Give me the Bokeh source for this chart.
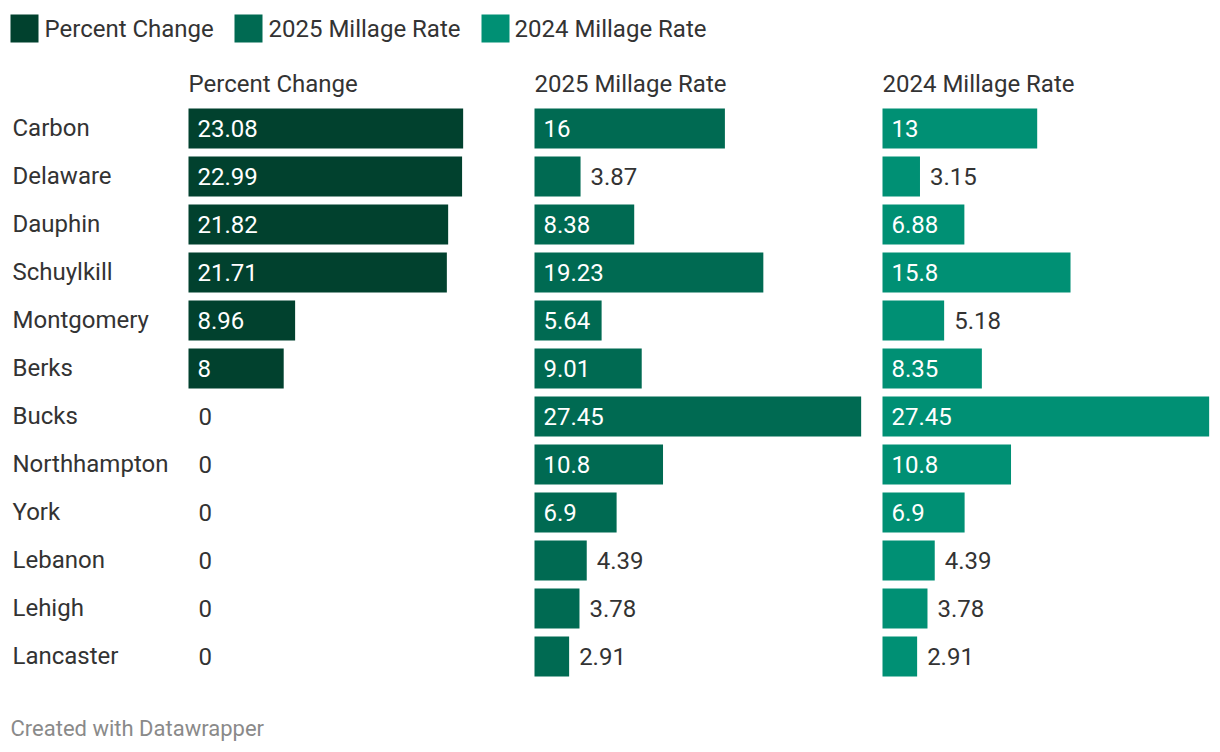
from bokeh.plotting import figure
from bokeh.models import Range1d, ColumnDataSource
from bokeh.embed import file_html
from bokeh.resources import INLINE
from bokeh.core.properties import value

# ---------------- data ----------------
counties = ["Carbon", "Delaware", "Dauphin", "Schuylkill", "Montgomery", "Berks",
            "Bucks", "Northhampton", "York", "Lebanon", "Lehigh", "Lancaster"]
pct_change = [23.08, 22.99, 21.82, 21.71, 8.96, 8, 0, 0, 0, 0, 0, 0]
rate_2025 = [16, 3.87, 8.38, 19.23, 5.64, 9.01, 27.45, 10.8, 6.9, 4.39, 3.78, 2.91]
rate_2024 = [13, 3.15, 6.88, 15.8, 5.18, 8.35, 27.45, 10.8, 6.9, 4.39, 3.78, 2.91]
series_names = ["Percent Change", "2025 Millage Rate", "2024 Millage Rate"]
series_colors = ["#01412e", "#006a52", "#009074"]
footer_text = "Created with Datawrapper"

# ---------------- layout constants ----------------
W, H = 1212, 744
FONT = value("Roboto")
TEXT_COLOR = "#333333"
ROW0, PITCH, BAR_H = 128, 48, 40
PX_PER_UNIT = 11.9
PANEL_LEFT = [188, 534, 882]
INSIDE_MIN = 5.5

p = figure(width=W, height=H, x_range=Range1d(0, W), y_range=Range1d(H, 0),
           output_backend="svg", toolbar_location=None, min_border=0,
           x_axis_location=None, y_axis_location=None)
p.grid.visible = False
p.outline_line_color = None
p.background_fill_color = "white"
p.border_fill_color = "white"

p.extra_y_ranges = {"rows": Range1d(start=(H - ROW0) / PITCH, end=-ROW0 / PITCH)}
rows = list(range(len(counties)))

# row labels
p.text(x=[12] * len(counties), y=rows, y_range_name="rows", text=counties,
       text_font=FONT, text_font_size=value("24px"), text_color=TEXT_COLOR,
       text_baseline="middle", text_align="left", y_offset=-1)

series = [pct_change, rate_2025, rate_2024]
for j, (name, vals, col) in enumerate(zip(series_names, series, series_colors)):
    left = PANEL_LEFT[j]
    rn = f"panel{j}"
    p.extra_x_ranges[rn] = Range1d(-left / PX_PER_UNIT, (W - left) / PX_PER_UNIT)
    p.hbar(y=rows, left=0, right=vals, height=BAR_H / PITCH, fill_color=col,
           line_color=None, x_range_name=rn, y_range_name="rows")
    labels = [f"{v:g}" for v in vals]
    inside = [v >= INSIDE_MIN for v in vals]
    src_in = ColumnDataSource(dict(
        x=[0 for v, i in zip(vals, inside) if i],
        y=[r for r, i in zip(rows, inside) if i],
        t=[l for l, i in zip(labels, inside) if i]))
    src_out = ColumnDataSource(dict(
        x=[v for v, i in zip(vals, inside) if not i],
        y=[r for r, i in zip(rows, inside) if not i],
        t=[l for l, i in zip(labels, inside) if not i]))
    p.text(x="x", y="y", text="t", source=src_in, x_offset=9,
           x_range_name=rn, y_range_name="rows",
           text_font=FONT, text_font_size=value("24px"), text_color="white",
           text_baseline="middle")
    p.text(x="x", y="y", text="t", source=src_out, x_offset=10,
           x_range_name=rn, y_range_name="rows",
           text_font=FONT, text_font_size=value("24px"), text_color=TEXT_COLOR,
           text_baseline="middle")
    # column header
    p.text(x=[0], y=[-0.917], text=[name], x_range_name=rn, y_range_name="rows",
           text_font=FONT, text_font_size=value("24px"), text_color=TEXT_COLOR,
           text_baseline="middle")

# legend
LEG_SQ_X = [24, 248, 495]
LEG_TX_X = [44, 268, 514]
p.rect(x=LEG_SQ_X, y=[28] * 3, width=28, height=28, fill_color=series_colors,
       line_color=None)
p.text(x=LEG_TX_X, y=[28] * 3, text=series_names, text_font=FONT,
       text_font_size=value("24px"), text_color=TEXT_COLOR, text_baseline="middle")

# footer
p.text(x=[10], y=[728], text=[footer_text], text_font=FONT,
       text_font_size=value("22px"), text_color="#8a8a8a", text_baseline="middle")

open("out.html", "w").write(file_html(p, INLINE))
